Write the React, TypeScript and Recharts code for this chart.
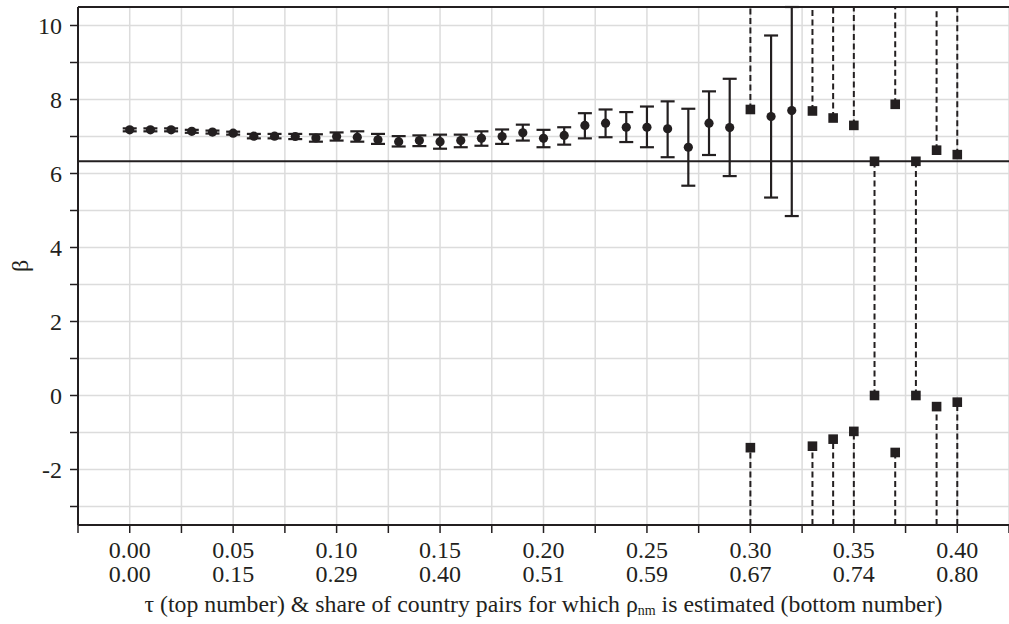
import {
  ScatterChart,
  Scatter,
  XAxis,
  YAxis,
  CartesianGrid,
  ReferenceLine,
  ErrorBar,
} from 'recharts';

// tau values with a single, finite estimate (circles + error bars)
const tauPoint = [
  0.0, 0.01, 0.02, 0.03, 0.04, 0.05, 0.06, 0.07, 0.08, 0.09, 0.1,
  0.11, 0.12, 0.13, 0.14, 0.15, 0.16, 0.17, 0.18, 0.19, 0.2, 0.21,
  0.22, 0.23, 0.24, 0.25, 0.26, 0.27, 0.28, 0.29, 0.31, 0.32,
];
const betaPoint = [
  7.18, 7.18, 7.18, 7.14, 7.12, 7.09, 7.01, 7.01, 7.0, 6.96, 7.0,
  6.98, 6.91, 6.86, 6.89, 6.86, 6.89, 6.95, 7.0, 7.1, 6.95, 7.03,
  7.3, 7.36, 7.25, 7.25, 7.21, 6.71, 7.36, 7.24, 7.54, 7.7,
];
const betaLow = [
  7.14, 7.14, 7.14, 7.1, 7.08, 7.05, 6.95, 6.95, 6.93, 6.86, 6.89,
  6.86, 6.8, 6.73, 6.74, 6.67, 6.71, 6.75, 6.8, 6.89, 6.71, 6.78,
  6.95, 6.98, 6.85, 6.71, 6.44, 5.67, 6.5, 5.93, 5.35, 4.85,
];
const betaHigh = [
  7.22, 7.22, 7.22, 7.18, 7.16, 7.13, 7.07, 7.07, 7.07, 7.06, 7.11,
  7.14, 7.07, 7.01, 7.03, 7.05, 7.05, 7.14, 7.19, 7.32, 7.18, 7.25,
  7.63, 7.73, 7.66, 7.81, 7.95, 7.75, 8.22, 8.56, 9.73, 10.5,
];

// tau values with two roots (squares + dashed intervals)
const tauRoot = [0.3, 0.33, 0.34, 0.35, 0.36, 0.37, 0.38, 0.39, 0.4];
const rootUpper = [7.73, 7.69, 7.5, 7.3, 6.33, 7.87, 6.33, 6.63, 6.51];
const rootLower = [-1.41, -1.37, -1.18, -0.97, 0, -1.54, 0, -0.3, -0.18];
// true where the interval lies between the two roots
const rootBounded = [false, false, false, false, true, false, true, false, false];

const betaRef = 6.33;

const xTicks = [
  -0.025, 0, 0.025, 0.05, 0.075, 0.1, 0.125, 0.15, 0.175, 0.2, 0.225,
  0.25, 0.275, 0.3, 0.325, 0.35, 0.375, 0.4, 0.425,
];
const shareLabels = ['0.00', '0.15', '0.29', '0.40', '0.51', '0.59', '0.67', '0.74', '0.80'];
const yTicks = [-3, -2, -1, 0, 1, 2, 3, 4, 5, 6, 7, 8, 9, 10];

const X_MIN = -0.025;
const X_MAX = 0.425;
const Y_MIN = -3.5;
const Y_MAX = 10.5;

const DARK = '#231f20';
const FONT = '"Liberation Serif", "Times New Roman", serif';

const pointRows = tauPoint.map((t, i) => ({
  tau: t,
  beta: betaPoint[i],
  err: [betaPoint[i] - betaLow[i], betaHigh[i] - betaPoint[i]],
}));
const upperRows = tauRoot.map((t, i) => ({ tau: t, beta: rootUpper[i] }));
const lowerRows = tauRoot.map((t, i) => ({ tau: t, beta: rootLower[i] }));

const segments: { x: number; y: number }[][] = [];
tauRoot.forEach((t, i) => {
  if (rootBounded[i]) {
    segments.push([{ x: t, y: rootLower[i] }, { x: t, y: rootUpper[i] }]);
  } else {
    segments.push([{ x: t, y: rootUpper[i] }, { x: t, y: Y_MAX }]);
    segments.push([{ x: t, y: Y_MIN }, { x: t, y: rootLower[i] }]);
  }
});

const circleShape = (p: any) => <circle cx={p.cx} cy={p.cy} r={4.6} fill={DARK} />;
const squareShape = (p: any) => (
  <rect x={p.cx - 4.8} y={p.cy - 4.8} width={9.6} height={9.6} fill={DARK} />
);

const XTick = (props: any) => {
  const { x, y, payload } = props;
  const v = payload.value;
  const k = Math.round(v / 0.05);
  if (Math.abs(v / 0.05 - k) > 1e-6 || k < 0 || k >= shareLabels.length) return null;
  return (
    <g>
      <text x={x} y={y + 25} textAnchor="middle" fontFamily={FONT} fontSize={24} fill={DARK}>
        {v.toFixed(2)}
      </text>
      <text x={x} y={y + 49} textAnchor="middle" fontFamily={FONT} fontSize={24} fill={DARK}>
        {shareLabels[k]}
      </text>
    </g>
  );
};

const XTitle = (props: any) => {
  const { viewBox } = props;
  const cx = viewBox.x + viewBox.width / 2;
  return (
    <text x={cx} y={viewBox.y + 87} textAnchor="middle" fontFamily={FONT} fontSize={23.8} fill={DARK}>
      τ (top number) &amp; share of country pairs for which ρ
      <tspan fontSize={14} dy={3}>nm</tspan>
      <tspan dy={-3}> is estimated (bottom number)</tspan>
    </text>
  );
};

const YTitle = (props: any) => {
  const { viewBox } = props;
  const cy = viewBox.y + viewBox.height / 2;
  return (
    <text
      x={20}
      y={cy}
      transform={`rotate(-90, 20, ${cy})`}
      textAnchor="middle"
      dominantBaseline="central"
      fontFamily={FONT}
      fontSize={24}
      fill={DARK}
    >
      β
    </text>
  );
};

export default function App() {
  return (
    <div style={{ position: 'absolute', left: 0, top: 0, background: '#fff' }}>
      <ScatterChart width={1009} height={624} margin={{ top: 7, right: 0, bottom: 0, left: 0 }}>
        <CartesianGrid stroke="#dcdcdc" strokeWidth={1.5} />
        <XAxis
          type="number"
          dataKey="tau"
          domain={[X_MIN, X_MAX]}
          ticks={xTicks}
          allowDataOverflow
          height={99}
          tick={<XTick />}
          tickSize={8}
          tickMargin={0}
          axisLine={{ stroke: DARK, strokeWidth: 2 }}
          tickLine={{ stroke: DARK, strokeWidth: 1.5 }}
          interval={0}
          label={{ content: (p: any) => <XTitle {...p} /> }}
        />
        <YAxis
          type="number"
          dataKey="beta"
          domain={[Y_MIN, Y_MAX]}
          ticks={yTicks}
          allowDataOverflow
          width={78}
          interval={0}
          tickFormatter={(v: number) => (v % 2 === 0 ? String(v) : '')}
          tick={{ fontFamily: FONT, fontSize: 24, fill: DARK }}
          tickSize={8}
          tickMargin={8}
          axisLine={{ stroke: DARK, strokeWidth: 2 }}
          tickLine={{ stroke: DARK, strokeWidth: 1.5 }}
          label={{ content: (p: any) => <YTitle {...p} /> }}
        />
        <ReferenceLine y={Y_MAX} stroke={DARK} strokeWidth={2} />
        <ReferenceLine y={betaRef} stroke={DARK} strokeWidth={2} />
        {segments.map((s, i) => (
          <ReferenceLine
            key={`seg-${i}`}
            segment={s}
            stroke={DARK}
            strokeWidth={2}
            strokeDasharray="6 3.5"
            ifOverflow="hidden"
          />
        ))}
        <Scatter data={pointRows} shape={circleShape} isAnimationActive={false}>
          <ErrorBar dataKey="err" direction="y" width={7} stroke={DARK} strokeWidth={2.2} />
        </Scatter>
        <Scatter data={upperRows} shape={squareShape} isAnimationActive={false} />
        <Scatter data={lowerRows} shape={squareShape} isAnimationActive={false} />
      </ScatterChart>
    </div>
  );
}
